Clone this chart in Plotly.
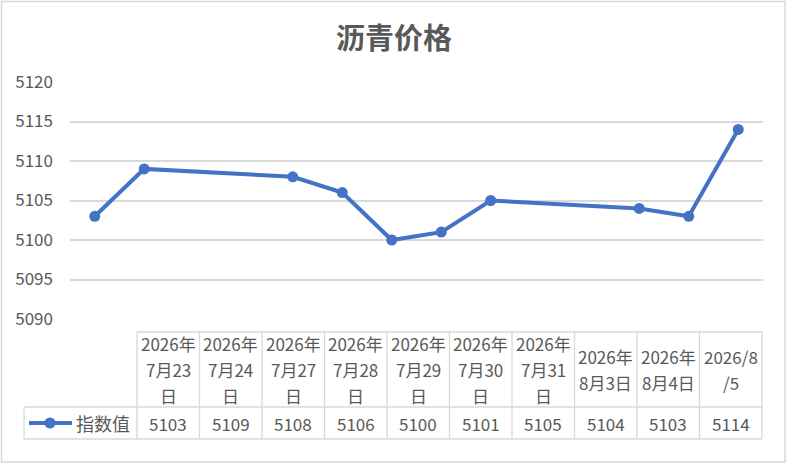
import plotly.graph_objects as go

# data
dates = ["2026-07-23", "2026-07-24", "2026-07-27", "2026-07-28", "2026-07-29",
         "2026-07-30", "2026-07-31", "2026-08-03", "2026-08-04", "2026-08-05"]
values = [5103, 5109, 5108, 5106, 5100, 5101, 5105, 5104, 5103, 5114]
header_labels = [
    "2026年\n7月23\n日", "2026年\n7月24\n日", "2026年\n7月27\n日", "2026年\n7月28\n日",
    "2026年\n7月29\n日", "2026年\n7月30\n日", "2026年\n7月31\n日",
    "2026年\n8月3日", "2026年\n8月4日", "2026/8\n/5",
]
series_name = "指数值"
title_text = "沥青价格"

W, H = 787, 464
BLUE = "#4472C4"
TEXT = "#595959"
GRID = "#D9D9D9"
FONT = "Noto Sans CJK SC"


def px(x):
    return x / W


def py(y):
    return 1 - y / H


fig = go.Figure()
fig.add_trace(go.Scatter(
    x=dates, y=values, mode="lines+markers", name=series_name,
    line=dict(color=BLUE, width=4),
    marker=dict(color=BLUE, size=11),
    hoverinfo="x+y", showlegend=False,
))

shapes = []
annotations = []

# outer chart border
shapes.append(dict(type="rect", xref="paper", yref="paper",
                   x0=px(1.5), x1=px(785), y0=py(462), y1=py(1.5),
                   line=dict(color=GRID, width=1.5)))

# data table under the plot
col_left, col_right = 137, 762
head_top, head_bot, row_bot = 332, 407, 439
label_left = 24
n = len(header_labels)
col_w = (col_right - col_left) / n

line_style = dict(color=GRID, width=1.3)
shapes.append(dict(type="line", xref="paper", yref="paper",
                   x0=px(col_left), x1=px(col_right), y0=py(head_top), y1=py(head_top), line=line_style))
for yy in (head_bot, row_bot):
    shapes.append(dict(type="line", xref="paper", yref="paper",
                       x0=px(label_left), x1=px(col_right), y0=py(yy), y1=py(yy), line=line_style))
shapes.append(dict(type="line", xref="paper", yref="paper",
                   x0=px(label_left), x1=px(label_left), y0=py(head_bot), y1=py(row_bot), line=line_style))
for i in range(n + 1):
    xx = col_left + i * col_w
    shapes.append(dict(type="line", xref="paper", yref="paper",
                       x0=px(xx), x1=px(xx), y0=py(head_top), y1=py(row_bot), line=line_style))

line_gap = 26
head_mid = (head_top + head_bot) / 2
val_mid = (head_bot + row_bot) / 2
for i, (lab, v) in enumerate(zip(header_labels, values)):
    cx = col_left + (i + 0.5) * col_w
    parts = lab.split("\n")
    start = head_mid - line_gap * (len(parts) - 1) / 2
    for j, p in enumerate(parts):
        annotations.append(dict(xref="paper", yref="paper", x=px(cx), y=py(start + j * line_gap),
                                text=p, showarrow=False, xanchor="center", yanchor="middle",
                                font=dict(size=17, color=TEXT, family=FONT)))
    annotations.append(dict(xref="paper", yref="paper", x=px(cx), y=py(val_mid),
                            text=str(v), showarrow=False, xanchor="center", yanchor="middle",
                            font=dict(size=17, color=TEXT, family=FONT)))

# legend key inside the table row label
shapes.append(dict(type="line", xref="paper", yref="paper",
                   x0=px(29), x1=px(72), y0=py(val_mid), y1=py(val_mid),
                   line=dict(color=BLUE, width=4)))
shapes.append(dict(type="circle", xref="paper", yref="paper",
                   x0=px(44.5), x1=px(55.5), y0=py(val_mid + 5.5), y1=py(val_mid - 5.5),
                   fillcolor=BLUE, line=dict(color=BLUE, width=0)))
annotations.append(dict(xref="paper", yref="paper", x=px(103), y=py(val_mid),
                        text=series_name, showarrow=False, xanchor="center", yanchor="middle",
                        font=dict(size=18, color=TEXT, family=FONT)))

# title
annotations.append(dict(xref="paper", yref="paper", x=px(394), y=py(36),
                        text="<b>" + title_text + "</b>", showarrow=False,
                        xanchor="center", yanchor="middle",
                        font=dict(size=29, color=TEXT, family=FONT)))

fig.update_layout(
    template="none",
    width=W, height=H,
    margin=dict(l=0, r=0, t=0, b=0, pad=0, autoexpand=False),
    paper_bgcolor="white", plot_bgcolor="white",
    font=dict(family=FONT, color=TEXT),
    xaxis=dict(type="date", domain=[px(70), px(763)], automargin=False,
               range=["2026-07-22 12:00", "2026-08-05 12:00"],
               showticklabels=False, showgrid=False, zeroline=False, showline=False, ticks=""),
    yaxis=dict(domain=[py(319), py(82)], range=[5090, 5120], dtick=5, automargin=False,
               showgrid=True, gridcolor=GRID, gridwidth=1.5, zeroline=False, showline=False,
               ticks="", ticklabelstandoff=16,
               tickfont=dict(size=17, color=TEXT, family=FONT)),
    shapes=shapes,
    annotations=annotations,
    showlegend=False,
)

# page body has a default 8px margin; drop it so the chart sits at the window corner
fig.write_html("out.html", config={"displayModeBar": False},
               post_script="document.body.style.margin='0';")
